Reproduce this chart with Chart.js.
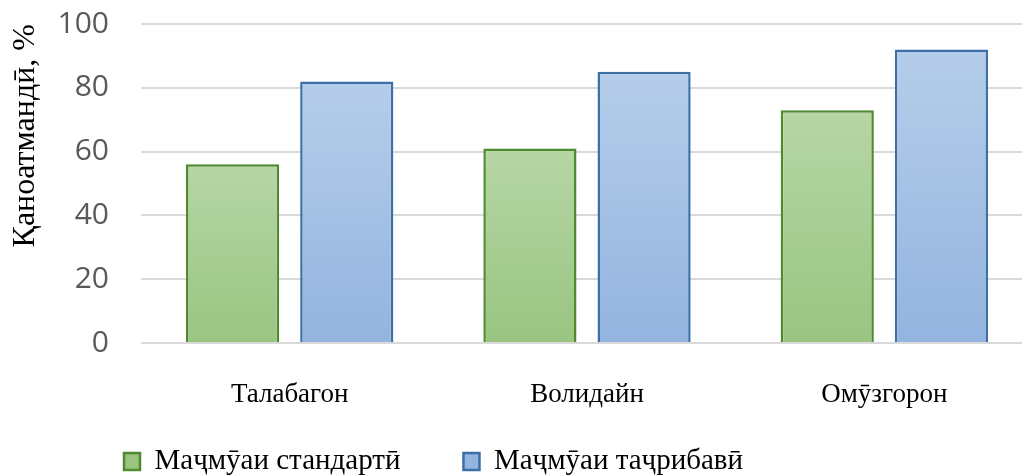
<!DOCTYPE html>
<html>
<head>
<meta charset="utf-8">
<script src="https://cdn.jsdelivr.net/npm/chart.js@4.4.0/dist/chart.umd.min.js"></script>
<style>
  html, body { margin: 0; padding: 0; background: #fff; overflow: hidden; }
  #wrap { width: 1040px; height: 475px; }
</style>
</head>
<body>
<div id="wrap"><canvas id="satisfactionChart" width="1040" height="475"></canvas></div>
<script>
// Маълумот аз расм
const categories = ['Талабагон', 'Волидайн', 'Омӯзгорон'];
const standardValues = [56, 61, 73];
const experimentValues = [82, 85, 92];
const seriesNames = ['Маҷмӯаи стандартӣ', 'Маҷмӯаи таҷрибавӣ'];
const yTicks = [0, 20, 40, 60, 80, 100];

// градиент барои ҳар сутун (аз боло равшантар)
function barGradient(topColor, bottomColor) {
    return function(context) {
        const chart = context.chart;
        const area = chart.chartArea;
        if (!area || context.parsed === undefined) return bottomColor;
        const y = chart.scales.y;
        const top = y.getPixelForValue(context.parsed.y);
        const bottom = y.getPixelForValue(0);
        const g = chart.ctx.createLinearGradient(0, top, 0, bottom);
        g.addColorStop(0, topColor);
        g.addColorStop(1, bottomColor);
        return g;
    };
}

// легенда: баландиро маҳдуд мекунем ва ба чап/поён мекашем
const legendShift = {
    id: 'legendShift',
    afterInit(chart) {
        const legend = chart.legend;
        if (!legend) return;
        const origFit = legend.fit;
        legend.fit = function() {
            origFit.call(this);
            this.height = 52;
        };
    },
    afterLayout(chart) {
        if (chart.legend) {
            chart.legend.left = 61;
            chart.legend.top = 384;
        }
    }
};

const serif = '"Liberation Serif", "Times New Roman", serif';

new Chart(document.getElementById('satisfactionChart'), {
    type: 'bar',
    data: {
        labels: categories,
        datasets: [{
            label: seriesNames[0],
            data: standardValues,
            backgroundColor: barGradient('#b6d6a6', '#99c581'),
            borderColor: '#4f8a30',
            borderWidth: 2.5,
            categoryPercentage: 0.768,
            barPercentage: 0.816
        }, {
            label: seriesNames[1],
            data: experimentValues,
            backgroundColor: barGradient('#b5cdea', '#93b4df'),
            borderColor: '#3d6ea5',
            borderWidth: 2.5,
            categoryPercentage: 0.768,
            barPercentage: 0.816
        }]
    },
    options: {
        responsive: false,
        animation: false,
        layout: { padding: { left: 4, right: 7, top: 24, bottom: 0 } },
        scales: {
            x: {
                afterFit: axis => { axis.height = 80; },
                grid: { display: false },
                border: { display: false },
                ticks: {
                    color: '#000',
                    padding: 28,
                    font: { family: serif, size: 27 }
                }
            },
            y: {
                min: 0,
                max: 100,
                afterBuildTicks: axis => { axis.ticks = yTicks.map(v => ({ value: v })); },
                afterFit: axis => {
                    axis.width = 137;
                    axis.paddingTop = 0;
                    axis.paddingBottom = 0;
                },
                grid: { color: '#d9d9d9', lineWidth: 2, drawTicks: false },
                border: { display: false },
                ticks: {
                    color: '#595959',
                    padding: 32,
                    font: { family: '"Open Sans", sans-serif', size: 30 }
                },
                title: {
                    display: true,
                    text: 'Қаноатмандӣ, %',
                    align: 'end',
                    color: '#000',
                    padding: { top: 2, bottom: 0 },
                    font: { family: serif, size: 32 }
                }
            }
        },
        plugins: {
            legend: {
                position: 'bottom',
                align: 'start',
                labels: {
                    color: '#000',
                    boxWidth: 16,
                    boxHeight: 17,
                    padding: 63,
                    font: { family: serif, size: 29 }
                }
            },
            tooltip: { enabled: false }
        }
    },
    plugins: [legendShift]
});
</script>
</body>
</html>
